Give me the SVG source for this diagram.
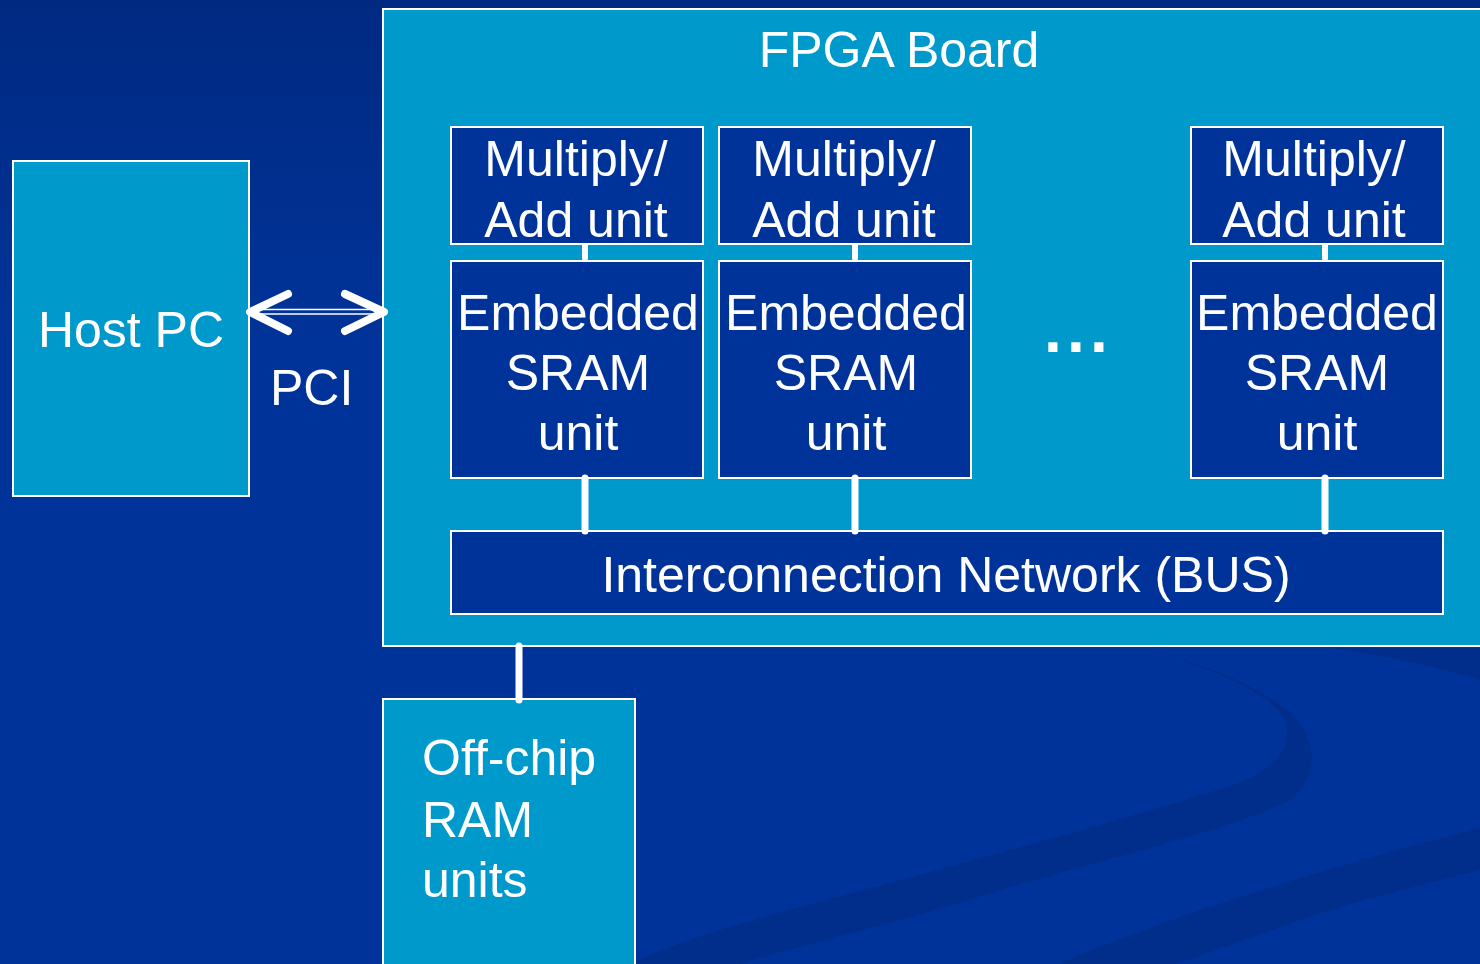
<svg xmlns="http://www.w3.org/2000/svg" width="1480" height="964" viewBox="0 0 1480 964">
<style>
.t{font-family:"Liberation Sans",Arial,sans-serif;font-size:50px;fill:#ffffff}
.c{text-anchor:middle}
.outer{fill:#0099cc;stroke:#ffffff;stroke-width:2}
.inner{fill:#003399;stroke:#ffffff;stroke-width:2}
.link{stroke:#ffffff;stroke-linecap:round;fill:none}
.band{fill:#002e8a}
</style>
<defs>
<linearGradient id="bg" x1="0" y1="0" x2="0" y2="1">
<stop offset="0" stop-color="#002a82"/>
<stop offset="0.35" stop-color="#003399"/>
<stop offset="1" stop-color="#003399"/>
</linearGradient>
</defs>
<rect width="1480" height="964" fill="url(#bg)"/>
<g id="background-swooshes">
<path class="band" d="M1140,648 C1200,664 1270,690 1285,720 C1295,750 1270,775 1217,790 C1100,827 900,880 760,918 C700,935 660,950 630,964 L740,964 C800,945 900,923 1000,890 C1120,855 1230,830 1290,800 C1320,775 1318,740 1290,712 C1250,680 1190,660 1140,648 Z"/>
<path class="band" d="M1480,828 C1400,848 1300,877 1200,910 C1130,935 1090,950 1060,964 L1177,964 C1220,948 1260,935 1300,920 C1360,900 1420,885 1480,870 Z"/>
<path class="band" d="M1330,648 C1380,655 1430,665 1480,680 L1480,648 Z"/>
</g>
<g id="fpga-board">
<rect class="outer" x="383" y="9" width="1110" height="637"/>
<text class="t c" x="899" y="67">FPGA Board</text>
</g>
<g id="host-pc">
<rect class="outer" x="13" y="161" width="236" height="335"/>
<text class="t c" x="131" y="347">Host PC</text>
</g>
<g id="pci-label">
<text class="t" x="270" y="405">PCI</text>
</g>
<g id="mac1">
<rect class="inner" x="451" y="127" width="252" height="117"/>
<text class="t c" x="576" y="176">Multiply/</text>
<text class="t c" x="576" y="237">Add unit</text>
</g>
<g id="mac2">
<rect class="inner" x="719" y="127" width="252" height="117"/>
<text class="t c" x="844" y="176">Multiply/</text>
<text class="t c" x="844" y="237">Add unit</text>
</g>
<g id="mac3">
<rect class="inner" x="1191" y="127" width="252" height="117"/>
<text class="t c" x="1314" y="176">Multiply/</text>
<text class="t c" x="1314" y="237">Add unit</text>
</g>
<g id="sram1">
<rect class="inner" x="451" y="261" width="252" height="217"/>
<text class="t c" x="578" y="330">Embedded</text>
<text class="t c" x="578" y="390">SRAM</text>
<text class="t c" x="578" y="450">unit</text>
</g>
<g id="sram2">
<rect class="inner" x="719" y="261" width="252" height="217"/>
<text class="t c" x="846" y="330">Embedded</text>
<text class="t c" x="846" y="390">SRAM</text>
<text class="t c" x="846" y="450">unit</text>
</g>
<g id="sram3">
<rect class="inner" x="1191" y="261" width="252" height="217"/>
<text class="t c" x="1317" y="330">Embedded</text>
<text class="t c" x="1317" y="390">SRAM</text>
<text class="t c" x="1317" y="450">unit</text>
</g>
<g id="ellipsis">
<text class="t" x="1044" y="352" style="font-size:64px;font-weight:bold;letter-spacing:5.2px">...</text>
</g>
<g id="bus">
<rect class="inner" x="451" y="531" width="992" height="83"/>
<text class="t c" x="946" y="592">Interconnection Network (BUS)</text>
</g>
<g id="offchip-ram">
<rect class="outer" x="383" y="699" width="252" height="280"/>
<text class="t" x="422" y="775">Off-chip</text>
<text class="t" x="422" y="837">RAM</text>
<text class="t" x="422" y="897">units</text>
</g>
<g id="connectors">
<line x1="255" y1="309.5" x2="381" y2="309.5" stroke="#ffffff" stroke-width="1.6"/>
<line x1="255" y1="314" x2="381" y2="314" stroke="#ffffff" stroke-width="1.6"/>
<polyline class="link" stroke-width="8" stroke-linejoin="round" points="288,294 250,312 288,331"/>
<polyline class="link" stroke-width="8" stroke-linejoin="round" points="345,294 384,312 345,331"/>
<line class="link" stroke-width="6" x1="585" y1="246" x2="585" y2="258"/>
<line class="link" stroke-width="6" x1="855" y1="246" x2="855" y2="258"/>
<line class="link" stroke-width="6" x1="1325" y1="246" x2="1325" y2="258"/>
<line class="link" stroke-width="7" x1="585" y1="478" x2="585" y2="531"/>
<line class="link" stroke-width="7" x1="855" y1="478" x2="855" y2="531"/>
<line class="link" stroke-width="7" x1="1325" y1="478" x2="1325" y2="531"/>
<line class="link" stroke-width="7" x1="519" y1="646" x2="519" y2="700"/>
</g>
</svg>
